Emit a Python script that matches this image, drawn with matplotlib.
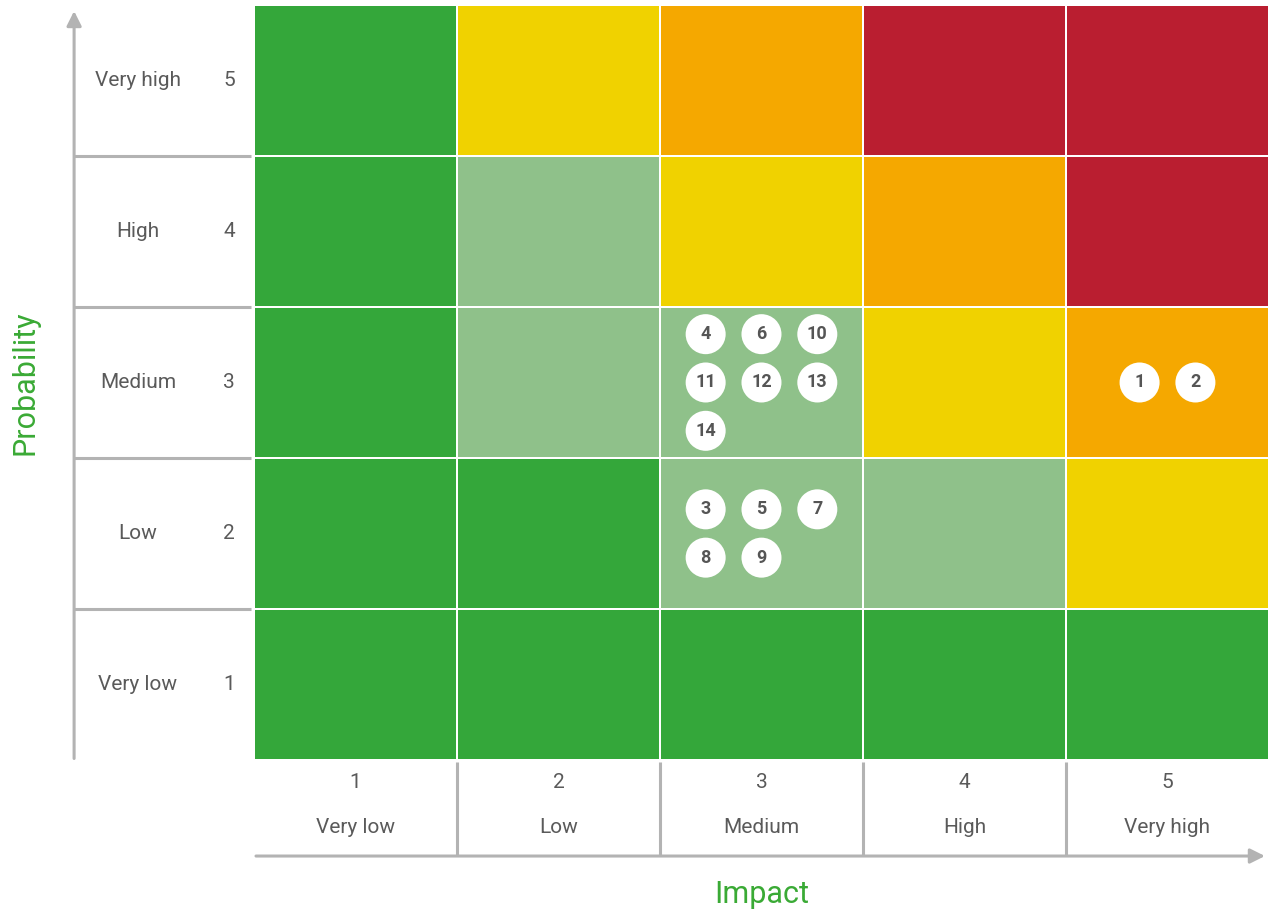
import math

import matplotlib
matplotlib.use("Agg")
import matplotlib.pyplot as plt
import numpy as np
from matplotlib.colors import BoundaryNorm, ListedColormap
from matplotlib.patches import FancyArrowPatch

# --- data ---
levels = ["Very low", "Low", "Medium", "High", "Very high"]
scores = [1, 2, 3, 4, 5]

# severity class per cell, rows = probability 1..5, cols = impact 1..5
# 0 green, 1 light green, 2 yellow, 3 orange, 4 red
severity = [
    [0, 0, 0, 0, 0],
    [0, 0, 1, 1, 2],
    [0, 1, 1, 2, 3],
    [0, 1, 2, 3, 4],
    [0, 2, 3, 4, 4],
]

risk_ids = [1, 2, 3, 4, 5, 6, 7, 8, 9, 10, 11, 12, 13, 14]
risk_impact = [5, 5, 3, 3, 3, 3, 3, 3, 3, 3, 3, 3, 3, 3]
risk_prob = [3, 3, 2, 3, 2, 3, 2, 2, 2, 3, 3, 3, 3, 3]

# --- style ---
SEV_COLORS = ["#34a73a", "#8fc18a", "#f0d200", "#f5a800", "#ba1e30"]
AXIS_GREY = "#b3b3b3"
TEXT_GREY = "#5a5a5a"
TITLE_GREEN = "#3aaa35"
FONT = ["Roboto", "DejaVu Sans"]

plt.rcParams["font.family"] = FONT

W, H, DPI = 1269, 915, 100
fig = plt.figure(figsize=(W / DPI, H / DPI), dpi=DPI)
ax = fig.add_axes([0, 0, 1, 1])
ax.set_xlim(-0.751, 5.5)
ax.set_ylim(-0.5265, 5.533)
ax.axis("off")

# heat grid
edges = np.arange(0.5, 6.0, 1.0)
cmap = ListedColormap(SEV_COLORS)
norm = BoundaryNorm(np.arange(-0.5, 5.0, 1.0), cmap.N)
ax.pcolormesh(edges, edges, np.array(severity), cmap=cmap, norm=norm,
              edgecolor="white", linewidth=1.4)

# left axis: arrow, row separators, labels
ax.add_patch(FancyArrowPatch((-0.386, 0.51), (-0.386, 5.46),
                             arrowstyle="-|>", mutation_scale=22,
                             color=AXIS_GREY, linewidth=2.2,
                             shrinkA=0, shrinkB=0))
for y in edges[1:-1]:
    ax.plot([-0.386, 0.485], [y, y], color=AXIS_GREY, lw=2.2,
            solid_capstyle="butt")
for s, lab in zip(scores, levels):
    ax.text(-0.071, s, lab, ha="center", va="center",
            fontsize=15, color=TEXT_GREY)
    ax.text(0.377, s, str(s), ha="center", va="center",
            fontsize=15, color=TEXT_GREY)

# bottom axis: arrow, column separators, labels
ax.add_patch(FancyArrowPatch((0.51, -0.136), (5.48, -0.136),
                             arrowstyle="-|>", mutation_scale=22,
                             color=AXIS_GREY, linewidth=2.2,
                             shrinkA=0, shrinkB=0))
for x in edges[1:-1]:
    ax.plot([x, x], [0.49, -0.136], color=AXIS_GREY, lw=2.2,
            solid_capstyle="butt")
for s, lab in zip(scores, levels):
    ax.text(s, 0.348, str(s), ha="center", va="center",
            fontsize=15, color=TEXT_GREY)
    ax.text(s, 0.05, lab, ha="center", va="center",
            fontsize=15, color=TEXT_GREY)

ax.text(-0.628, 3.0, "Probability", rotation=90, ha="center", va="center",
        fontsize=22, color=TITLE_GREEN)
ax.text(3.0, -0.394, "Impact", ha="center", va="center",
        fontsize=22, color=TITLE_GREEN)

# risk markers, packed three per row inside each cell
DX, DY = 0.275, 0.32
cells = {}
for rid, imp, prob in zip(risk_ids, risk_impact, risk_prob):
    cells.setdefault((imp, prob), []).append(rid)

for (imp, prob), ids in cells.items():
    ids = sorted(ids)
    ncol = min(len(ids), 3)
    nrow = math.ceil(len(ids) / 3)
    for k, rid in enumerate(ids):
        r, c = divmod(k, 3)
        x = imp + (c - (ncol - 1) / 2) * DX
        y = prob + ((nrow - 1) / 2 - r) * DY
        ax.scatter([x], [y], s=830, color="white", edgecolor="none", zorder=3)
        ax.text(x, y, str(rid), ha="center", va="center", fontsize=13,
                fontweight="bold", color="#555555", zorder=4)

fig.savefig("out.png", dpi=DPI)
